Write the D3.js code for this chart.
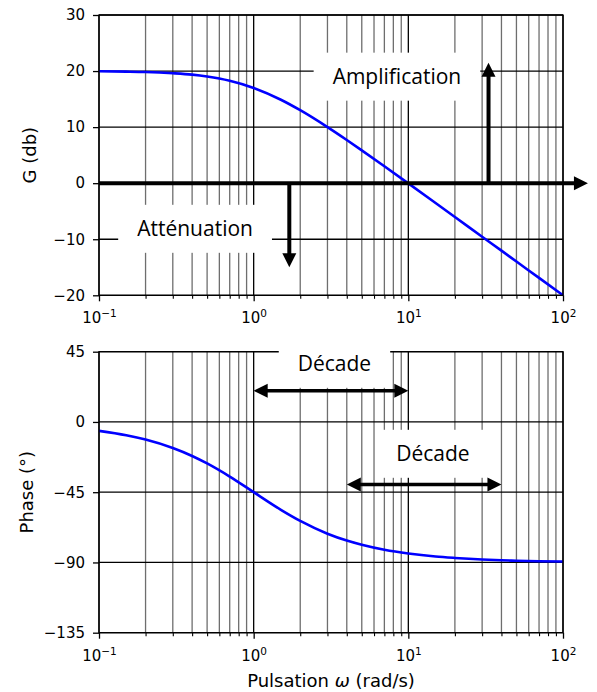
<!DOCTYPE html>
<html>
<head>
<meta charset="utf-8">
<script src="https://cdn.jsdelivr.net/npm/d3@7"></script>
<style>
  body { margin: 0; background: #fff; }
  svg { display: block; }
</style>
</head>
<body>
<script>
// Frequency samples (rad/s) and the Bode response read at each of them
const omega    = [0.1, 0.15, 0.2, 0.3, 0.4, 0.5, 0.7, 1, 1.5, 2, 3, 4, 5, 7, 10, 15, 20, 30, 40, 50, 70, 100];
const gainDb   = [19.96, 19.90, 19.83, 19.61, 19.36, 19.03, 18.27, 16.99, 14.88, 13.01, 10.00, 7.70, 5.85, 3.01, -0.04, -3.54, -6.03, -9.55, -12.04, -13.98, -16.90, -20.00];
const phaseDeg = [-5.7, -8.5, -11.3, -16.7, -21.8, -26.6, -35.0, -45.0, -56.3, -63.4, -71.6, -76.0, -78.7, -81.9, -84.3, -86.2, -87.1, -88.1, -88.6, -88.9, -89.2, -89.4];

// Axis ticks
const gainTicks     = [-20, -10, 0, 10, 20, 30];
const phaseTicks    = [-135, -90, -45, 0, 45];
const decadeTicks   = [0.1, 1, 10, 100];
const decadeExps    = ["\u22121", "0", "1", "2"];

// Labelled boxes, anchored in data coordinates (omega, value)
const gainNotes  = [
  { text: "Amplification", w: 8.44, v: 19.0 },
  { text: "Atténuation",   w: 0.418, v: -8.14 }
];
const phaseNotes = [
  { text: "Décade", w: 3.33,  v: 37.25 },
  { text: "Décade", w: 14.43, v: -20.4 }
];

// Arrows in data coordinates
const gainArrows = [
  { from: [0.1, 0], to: [145, 0],   both: false, width: 4 },
  { from: [33, 0],  to: [33, 21.5], both: false, width: 4 },
  { from: [1.7, 0], to: [1.7, -15], both: false, width: 4 }
];
const phaseArrows = [
  { from: [1, 20],   to: [10, 20],   both: true, width: 3.5 },
  { from: [4, -40],  to: [40, -40],  both: true, width: 3.5 }
];

const W = 597, H = 692;
const left = 99, right = 563;
const tickFont = "DejaVu Sans, sans-serif";
const noteFont = "'Open Sans', 'Noto Sans', sans-serif";

const svg = d3.select("body").append("svg")
  .attr("width", W).attr("height", H)
  .attr("viewBox", `0 0 ${W} ${H}`);
svg.append("rect").attr("width", W).attr("height", H).attr("fill", "#fff");

const x = d3.scaleLog().domain([0.1, 100]).range([left, right]);

const minorTicks = [];
[0.1, 1, 10].forEach(d => { for (let k = 2; k <= 9; k++) minorTicks.push(+(d * k).toPrecision(3)); });

function panel(cfg) {
  const y = d3.scaleLinear().domain(cfg.domain).range([cfg.bottom, cfg.top]);
  const g = svg.append("g");

  // grid
  const grid = g.append("g");
  grid.selectAll("line.minor").data(minorTicks).join("line")
    .attr("x1", d => x(d)).attr("x2", d => x(d))
    .attr("y1", cfg.top).attr("y2", cfg.bottom)
    .attr("stroke", "#6e6e6e").attr("stroke-width", 1.3);
  grid.selectAll("line.major").data(decadeTicks).join("line")
    .attr("x1", d => x(d)).attr("x2", d => x(d))
    .attr("y1", cfg.top).attr("y2", cfg.bottom)
    .attr("stroke", "#000").attr("stroke-width", 1.3);
  grid.selectAll("line.h").data(cfg.ticks).join("line")
    .attr("x1", left).attr("x2", right)
    .attr("y1", d => y(d)).attr("y2", d => y(d))
    .attr("stroke", "#000").attr("stroke-width", 1.3);

  // curve
  const line = d3.line()
    .x((d, i) => x(omega[i]))
    .y(d => y(d))
    .curve(d3.curveMonotoneX);
  g.append("path").datum(cfg.values)
    .attr("d", line)
    .attr("fill", "none")
    .attr("stroke", "#0000ff")
    .attr("stroke-width", 2.6)
    .attr("stroke-linejoin", "round");

  // frame
  g.append("rect")
    .attr("x", left).attr("y", cfg.top)
    .attr("width", right - left).attr("height", cfg.bottom - cfg.top)
    .attr("fill", "none").attr("stroke", "#000").attr("stroke-width", 1.3);

  // y axis
  const yAxis = d3.axisLeft(y).tickValues(cfg.ticks)
    .tickSize(6).tickPadding(8).tickSizeOuter(0)
    .tickFormat(d => d < 0 ? "\u2212" + Math.abs(d) : String(d));
  const ya = g.append("g").attr("transform", `translate(${left},0)`).call(yAxis);
  ya.select(".domain").remove();
  ya.selectAll("line").attr("stroke", "#000").attr("stroke-width", 1.3);
  ya.selectAll("text").attr("font-family", tickFont).attr("font-size", 15).attr("fill", "#000");

  // x axis: minor then major ticks
  const xm = g.append("g").attr("transform", `translate(0,${cfg.bottom})`)
    .call(d3.axisBottom(x).tickValues(minorTicks).tickSize(3.5).tickSizeOuter(0).tickFormat(""));
  xm.select(".domain").remove();
  xm.selectAll("line").attr("stroke", "#000").attr("stroke-width", 1.1);

  const xa = g.append("g").attr("transform", `translate(0,${cfg.bottom})`)
    .call(d3.axisBottom(x).tickValues(decadeTicks).tickSize(6).tickSizeOuter(0).tickFormat(""));
  xa.select(".domain").remove();
  xa.selectAll("line").attr("stroke", "#000").attr("stroke-width", 1.3);
  xa.selectAll(".tick").each(function(d, i) {
    const t = d3.select(this).append("text")
      .attr("y", 28).attr("text-anchor", "middle")
      .attr("font-family", tickFont).attr("font-size", 15).attr("fill", "#000");
    t.append("tspan").text("10");
    t.append("tspan").attr("dy", -6).attr("font-size", 10.5).text(decadeExps[i]);
  });

  // axis title
  svg.append("text")
    .attr("transform", `translate(${cfg.labelX},${(cfg.top + cfg.bottom) / 2}) rotate(-90)`)
    .attr("text-anchor", "middle")
    .attr("font-family", tickFont).attr("font-size", 18).attr("fill", "#000")
    .text(cfg.label);

  // annotations
  cfg.notes.forEach(n => {
    const cx = x(n.w), cy = y(n.v);
    const ng = svg.append("g");
    const r = ng.append("rect").attr("fill", "#fff");
    const t = ng.append("text")
      .attr("x", cx).attr("y", cy + 7.5)
      .attr("text-anchor", "middle")
      .attr("font-family", noteFont).attr("font-size", 21).attr("fill", "#000")
      .text(n.text);
    const tw = t.node().getComputedTextLength();
    r.attr("x", cx - tw / 2 - 19).attr("y", cy - 24)
     .attr("width", tw + 38).attr("height", 48);
  });

  // arrows
  cfg.arrows.forEach(a => {
    const p0 = [x(a.from[0]), y(a.from[1])];
    const p1 = [x(a.to[0]), y(a.to[1])];
    const dx = p1[0] - p0[0], dy = p1[1] - p0[1];
    const len = Math.hypot(dx, dy);
    const ux = dx / len, uy = dy / len;
    const L = 14, hw = 7;
    const s0 = a.both ? [p0[0] + ux * (L - 1), p0[1] + uy * (L - 1)] : p0;
    const s1 = [p1[0] - ux * (L - 1), p1[1] - uy * (L - 1)];
    const ag = svg.append("g");
    ag.append("line")
      .attr("x1", s0[0]).attr("y1", s0[1]).attr("x2", s1[0]).attr("y2", s1[1])
      .attr("stroke", "#000").attr("stroke-width", a.width);
    const head = (tip, vx, vy) => {
      const bx = tip[0] - vx * L, by = tip[1] - vy * L;
      return [[tip[0], tip[1]], [bx - vy * hw, by + vx * hw], [bx + vy * hw, by - vx * hw]];
    };
    const heads = [head(p1, ux, uy)];
    if (a.both) heads.push(head(p0, -ux, -uy));
    heads.forEach(h => ag.append("polygon")
      .attr("points", h.map(p => p.join(",")).join(" "))
      .attr("fill", "#000"));
  });

  return y;
}

panel({
  domain: [-20, 30], top: 15, bottom: 295.3, ticks: gainTicks,
  values: gainDb, label: "G (db)", labelX: 36,
  notes: gainNotes, arrows: gainArrows
});

panel({
  domain: [-135, 45], top: 351.7, bottom: 632.7, ticks: phaseTicks,
  values: phaseDeg, label: "Phase (°)", labelX: 32.5,
  notes: phaseNotes, arrows: phaseArrows
});

// shared x title
const xl = svg.append("text")
  .attr("x", (left + right) / 2).attr("y", 686.5)
  .attr("text-anchor", "middle")
  .attr("font-family", tickFont).attr("font-size", 18).attr("fill", "#000");
xl.append("tspan").text("Pulsation ");
xl.append("tspan").attr("font-style", "italic").text("ω");
xl.append("tspan").text(" (rad/s)");
</script>
</body>
</html>
